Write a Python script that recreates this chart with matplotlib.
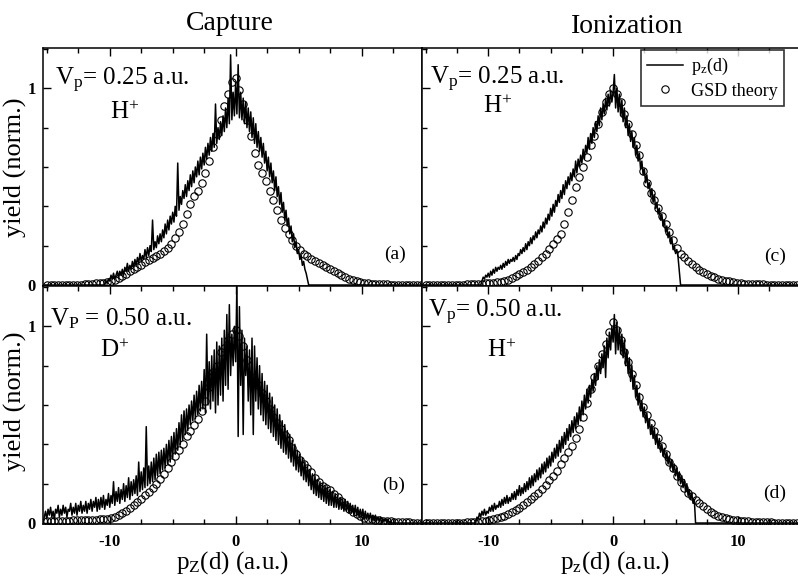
import numpy as np
import matplotlib
matplotlib.use('Agg')
import matplotlib.pyplot as plt
from matplotlib.ticker import MultipleLocator

plt.rcParams['font.family'] = 'Liberation Serif'
plt.rcParams['mathtext.fontset'] = 'custom'
plt.rcParams['mathtext.rm'] = 'Liberation Serif'
plt.rcParams['mathtext.it'] = 'Liberation Serif:italic'

# Measured p_z(d) spectra, sampled every 0.1 a.u. from the given start value
exp_step = 0.1

exp_a_start = -10.4   # capture, Vp = 0.25 a.u., H+
exp_a_y = [0.00, 0.02, 0.01, 0.03,
           0.02, 0.05, 0.03, 0.06, 0.03, 0.05, 0.07, 0.04, 0.07, 0.05,
           0.08, 0.05, 0.09, 0.07, 0.11, 0.07, 0.10, 0.08, 0.12, 0.09,
           0.13, 0.10, 0.14, 0.11, 0.16, 0.12, 0.15, 0.13, 0.18, 0.14,
           0.19, 0.15, 0.20, 0.17, 0.33, 0.18, 0.22, 0.19, 0.25, 0.21,
           0.26, 0.22, 0.28, 0.24, 0.31, 0.26, 0.33, 0.28, 0.35, 0.31,
           0.37, 0.32, 0.40, 0.35, 0.62, 0.38, 0.45, 0.41, 0.48, 0.44,
           0.51, 0.45, 0.53, 0.48, 0.56, 0.50, 0.58, 0.52, 0.60, 0.55,
           0.63, 0.56, 0.65, 0.59, 0.67, 0.61, 0.70, 0.64, 0.72, 0.66,
           0.75, 0.68, 0.77, 0.70, 0.92, 0.72, 0.80, 0.74, 0.83, 0.76,
           0.86, 0.78, 0.90, 0.80, 0.95, 0.82, 1.17, 0.84, 0.98, 0.86,
           1.03, 0.87, 1.12, 0.85, 0.98, 0.84, 0.95, 0.82, 0.93, 0.80,
           0.90, 0.78, 0.88, 0.75, 0.85, 0.72, 0.82, 0.70, 0.78, 0.68,
           0.75, 0.65, 0.72, 0.62, 0.68, 0.58, 0.65, 0.55, 0.62, 0.52,
           0.58, 0.48, 0.55, 0.45, 0.50, 0.41, 0.47, 0.37, 0.42, 0.33,
           0.38, 0.30, 0.34, 0.26, 0.30, 0.22, 0.26, 0.19, 0.22, 0.16,
           0.18, 0.13, 0.15, 0.10, 0.12, 0.08, 0.06, 0.03, 0.00]

exp_b_start = -15.2   # capture, Vp = 0.50 a.u., D+
exp_b_y = [0.03, 0.06,
           0.02, 0.07, 0.04, 0.08, 0.03, 0.06, 0.02, 0.07, 0.05, 0.09,
           0.03, 0.07, 0.04, 0.09, 0.05, 0.08, 0.03, 0.07, 0.06, 0.10,
           0.04, 0.08, 0.05, 0.10, 0.04, 0.09, 0.06, 0.11, 0.05, 0.09,
           0.06, 0.11, 0.05, 0.10, 0.07, 0.12, 0.06, 0.11, 0.08, 0.13,
           0.06, 0.12, 0.07, 0.13, 0.08, 0.14, 0.07, 0.12, 0.09, 0.15,
           0.08, 0.14, 0.10, 0.21, 0.09, 0.16, 0.11, 0.18, 0.10, 0.17,
           0.12, 0.20, 0.11, 0.19, 0.13, 0.23, 0.12, 0.21, 0.14, 0.22,
           0.15, 0.24, 0.14, 0.31, 0.16, 0.26, 0.17, 0.28, 0.18, 0.49,
           0.19, 0.29, 0.20, 0.31, 0.21, 0.33, 0.22, 0.35, 0.24, 0.36,
           0.25, 0.37, 0.27, 0.38, 0.28, 0.40, 0.30, 0.42, 0.31, 0.44,
           0.33, 0.46, 0.35, 0.48, 0.37, 0.51, 0.40, 0.55, 0.42, 0.57,
           0.45, 0.58, 0.47, 0.60, 0.50, 0.62, 0.52, 0.65, 0.53, 0.67,
           0.55, 0.70, 0.57, 0.72, 0.58, 0.78, 0.56, 0.96, 0.60, 0.82,
           0.58, 0.85, 0.62, 0.88, 0.56, 0.92, 0.60, 0.90, 0.65, 0.94,
           0.62, 0.98, 0.70, 1.06, 0.68, 1.11, 0.75, 0.96, 0.80, 1.00,
           0.82, 1.22, 0.44, 1.10, 0.70, 0.98, 0.45, 0.94, 0.75, 0.90,
           0.62, 0.88, 0.55, 0.94, 0.45, 0.90, 0.62, 0.84, 0.58, 0.80,
           0.55, 0.76, 0.52, 0.72, 0.50, 0.70, 0.48, 0.66, 0.46, 0.64,
           0.44, 0.60, 0.42, 0.58, 0.40, 0.55, 0.38, 0.52, 0.36, 0.50,
           0.35, 0.47, 0.33, 0.45, 0.31, 0.42, 0.29, 0.40, 0.27, 0.37,
           0.26, 0.35, 0.24, 0.33, 0.22, 0.31, 0.21, 0.29, 0.19, 0.27,
           0.17, 0.25, 0.15, 0.24, 0.14, 0.22, 0.13, 0.21, 0.12, 0.20,
           0.11, 0.19, 0.10, 0.18, 0.09, 0.17, 0.09, 0.16, 0.08, 0.15,
           0.08, 0.14, 0.07, 0.13, 0.07, 0.12, 0.06, 0.12, 0.06, 0.11,
           0.05, 0.10, 0.05, 0.09, 0.04, 0.09, 0.04, 0.08, 0.03, 0.07,
           0.03, 0.07, 0.02, 0.06, 0.02, 0.05, 0.02, 0.05, 0.01, 0.04,
           0.01, 0.04, 0.01, 0.03, 0.01, 0.03, 0.00, 0.02, 0.01, 0.02,
           0.00, 0.02, 0.00, 0.01, 0.00]

exp_c_start = -10.6   # ionization, Vp = 0.25 a.u., H+
exp_c_y = [0.00, 0.02, 0.04, 0.03, 0.05, 0.04,
           0.06, 0.04, 0.07, 0.05, 0.08, 0.06, 0.09, 0.07, 0.09, 0.08,
           0.10, 0.08, 0.11, 0.09, 0.12, 0.10, 0.13, 0.11, 0.13, 0.12,
           0.14, 0.12, 0.15, 0.13, 0.16, 0.15, 0.18, 0.16, 0.19, 0.17,
           0.21, 0.18, 0.22, 0.20, 0.24, 0.21, 0.25, 0.23, 0.27, 0.24,
           0.28, 0.26, 0.30, 0.27, 0.32, 0.29, 0.34, 0.31, 0.36, 0.33,
           0.39, 0.35, 0.41, 0.37, 0.43, 0.40, 0.46, 0.42, 0.48, 0.44,
           0.51, 0.46, 0.53, 0.49, 0.55, 0.51, 0.57, 0.53, 0.59, 0.55,
           0.63, 0.57, 0.64, 0.60, 0.66, 0.62, 0.69, 0.64, 0.71, 0.67,
           0.75, 0.69, 0.77, 0.72, 0.80, 0.75, 0.83, 0.78, 0.86, 0.81,
           0.90, 0.84, 0.92, 0.87, 0.95, 0.89, 0.97, 0.91, 0.99, 0.93,
           0.98, 1.07, 0.90, 1.00, 0.88, 0.97, 0.86, 0.94, 0.83, 0.90,
           0.80, 0.86, 0.76, 0.82, 0.73, 0.78, 0.70, 0.75, 0.66, 0.71,
           0.63, 0.67, 0.59, 0.63, 0.56, 0.59, 0.52, 0.56, 0.49, 0.52,
           0.45, 0.49, 0.42, 0.46, 0.39, 0.42, 0.36, 0.39, 0.33, 0.36,
           0.30, 0.33, 0.27, 0.30, 0.24, 0.27, 0.21, 0.24, 0.18, 0.20,
           0.16, 0.18, 0.14, 0.07, 0.00]

exp_d_start = -11.0   # ionization, Vp = 0.50 a.u., H+
exp_d_y = [0.00, 0.03, 0.02, 0.05, 0.03, 0.06, 0.04, 0.07, 0.04, 0.06,
           0.05, 0.08, 0.06, 0.09, 0.06, 0.10, 0.07, 0.09, 0.08, 0.11,
           0.08, 0.12, 0.09, 0.13, 0.10, 0.14, 0.10, 0.13, 0.11, 0.15,
           0.12, 0.16, 0.12, 0.17, 0.14, 0.19, 0.14, 0.18, 0.15, 0.20,
           0.16, 0.21, 0.17, 0.23, 0.18, 0.24, 0.19, 0.25, 0.21, 0.27,
           0.22, 0.28, 0.23, 0.30, 0.25, 0.31, 0.26, 0.33, 0.28, 0.34,
           0.29, 0.36, 0.31, 0.38, 0.33, 0.40, 0.34, 0.42, 0.36, 0.44,
           0.38, 0.46, 0.40, 0.48, 0.42, 0.50, 0.44, 0.52, 0.46, 0.54,
           0.48, 0.56, 0.50, 0.59, 0.52, 0.62, 0.55, 0.65, 0.58, 0.68,
           0.61, 0.70, 0.64, 0.73, 0.67, 0.76, 0.70, 0.80, 0.73, 0.83,
           0.76, 0.86, 0.79, 0.90, 0.74, 0.94, 0.84, 0.97, 0.88, 1.00,
           0.92, 1.06, 0.86, 1.02, 0.88, 0.99, 0.86, 0.96, 0.84, 0.93,
           0.80, 0.88, 0.76, 0.84, 0.72, 0.80, 0.68, 0.75, 0.64, 0.70,
           0.60, 0.66, 0.57, 0.62, 0.54, 0.59, 0.51, 0.56, 0.48, 0.53,
           0.45, 0.50, 0.43, 0.48, 0.40, 0.45, 0.38, 0.43, 0.36, 0.40,
           0.34, 0.38, 0.32, 0.36, 0.30, 0.34, 0.28, 0.32, 0.26, 0.30,
           0.24, 0.28, 0.22, 0.26, 0.20, 0.24, 0.18, 0.22, 0.16, 0.20,
           0.14, 0.17, 0.12, 0.15, 0.10, 0.12, 0.00]

# GSD theory, every 0.3 a.u. starting at -15 a.u.
gsd_start = -15.0
gsd_step = 0.3

gsd_a = [0.0, 0.0, 0.0, 0.0, 0.0, 0.0, 0.0, 0.0, 0.0, 0.0, 0.005, 0.005, 0.005, 0.01,
         0.01, 0.012, 0.015, 0.02, 0.027, 0.035, 0.045, 0.055, 0.07, 0.08,
         0.09, 0.1, 0.115, 0.125, 0.135, 0.15, 0.16, 0.175, 0.19, 0.21,
         0.24, 0.27, 0.31, 0.36, 0.41, 0.45, 0.48, 0.52, 0.57, 0.63,
         0.7, 0.77, 0.84, 0.91, 0.97, 1.03,
         1.05, 0.99, 0.92, 0.84, 0.76, 0.67, 0.61, 0.57, 0.53, 0.48,
         0.43, 0.38, 0.33, 0.29, 0.26, 0.23, 0.2, 0.18, 0.16, 0.145,
         0.13, 0.12, 0.11, 0.1, 0.09, 0.08, 0.07, 0.06, 0.05, 0.04,
         0.032, 0.025, 0.018, 0.013, 0.01, 0.008, 0.006, 0.005, 0.004,
         0.003, 0.003, 0.002, 0.002, 0.002, 0.001, 0.001, 0.0, 0.0, 0.0, 0.0]

gsd_b = [0.01, 0.01, 0.01, 0.01, 0.012, 0.012, 0.012, 0.013, 0.013, 0.014, 0.014, 0.015, 0.015, 0.016,
         0.018, 0.02, 0.023, 0.027, 0.032, 0.04, 0.05, 0.062, 0.075, 0.09,
         0.105, 0.12, 0.14, 0.16, 0.18, 0.2, 0.225, 0.25, 0.28, 0.31,
         0.34, 0.37, 0.4, 0.44, 0.47, 0.5, 0.53, 0.57, 0.62, 0.69,
         0.77, 0.8, 0.87, 0.89, 0.93, 0.96,
         0.98, 0.95, 0.9, 0.83, 0.74, 0.72, 0.7, 0.66, 0.62, 0.58,
         0.54, 0.51, 0.48, 0.45, 0.42, 0.38, 0.35, 0.32, 0.3, 0.28,
         0.26, 0.23, 0.21, 0.19, 0.18, 0.17, 0.15, 0.13, 0.11, 0.09,
         0.07, 0.055, 0.045, 0.035, 0.028, 0.022, 0.018, 0.015, 0.013,
         0.011, 0.01, 0.008, 0.007, 0.006, 0.005, 0.004, 0.003, 0.002, 0.002, 0.001]

gsd_c = [0.0, 0.0, 0.0, 0.0, 0.0, 0.0, 0.0, 0.0, 0.0, 0.0, 0.002, 0.003, 0.004, 0.005,
         0.005, 0.006, 0.008, 0.01, 0.012, 0.014, 0.017, 0.022, 0.028, 0.036,
         0.045, 0.055, 0.065, 0.078, 0.09, 0.105, 0.12, 0.14, 0.16, 0.185,
         0.21, 0.235, 0.26, 0.31, 0.37, 0.43, 0.5, 0.55, 0.6, 0.65,
         0.71, 0.76, 0.82, 0.88, 0.93, 0.97,
         1.0, 0.97, 0.93, 0.87, 0.82, 0.77, 0.71, 0.66, 0.58, 0.52,
         0.47, 0.43, 0.39, 0.35, 0.31, 0.27, 0.23, 0.19, 0.16, 0.14,
         0.12, 0.105, 0.09, 0.077, 0.066, 0.057, 0.048, 0.04, 0.033, 0.027,
         0.022, 0.018, 0.014, 0.011, 0.009, 0.007, 0.006, 0.005, 0.004,
         0.003, 0.003, 0.002, 0.002, 0.002, 0.001, 0.001, 0.0, 0.0, 0.0, 0.0]

gsd_d = [0.0, 0.0, 0.0, 0.0, 0.0, 0.0, 0.0, 0.0, 0.0, 0.0, 0.002, 0.003, 0.004, 0.005,
         0.007, 0.009, 0.012, 0.015, 0.019, 0.024, 0.03, 0.037, 0.045, 0.055,
         0.066, 0.078, 0.09, 0.105, 0.12, 0.137, 0.155, 0.175, 0.195, 0.218,
         0.24, 0.265, 0.3, 0.33, 0.36, 0.39, 0.43, 0.48, 0.54, 0.61,
         0.68, 0.74, 0.8, 0.86, 0.91, 0.97,
         1.02, 0.98, 0.93, 0.87, 0.82, 0.76, 0.7, 0.64, 0.59, 0.55,
         0.51, 0.47, 0.43, 0.39, 0.35, 0.31, 0.28, 0.24, 0.21, 0.18,
         0.155, 0.135, 0.115, 0.1, 0.085, 0.07, 0.057, 0.046, 0.037, 0.03,
         0.025, 0.02, 0.017, 0.014, 0.012, 0.01, 0.008, 0.007, 0.006,
         0.005, 0.004, 0.003, 0.003, 0.002, 0.002, 0.001, 0.001, 0.0, 0.0, 0.0]

xmin, xmax = -15.3, 14.8
ymin, ymax = -0.005, 1.205

# panel texts
panel_letters = ['(a)', '(b)', '(c)', '(d)']
velocity_texts = [r'V$_\mathrm{p}$= 0.25 a.u.', r'V$_\mathrm{P}$ = 0.50 a.u.',
                  r'V$_\mathrm{p}$= 0.25 a.u.', r'V$_\mathrm{p}$= 0.50 a.u.']
ion_texts = [r'H$^\mathrm{+}$', r'D$^\mathrm{+}$', r'H$^\mathrm{+}$', r'H$^\mathrm{+}$']


def spectrum_xy(start, yvals):
    # experimental curve plus the zero line out to the frame edges
    x = start + exp_step * np.arange(len(yvals))
    return np.r_[xmin, x, xmax], np.r_[0.0, yvals, 0.0]


fig = plt.figure(figsize=(7.98, 5.78), dpi=100)

# axes rectangles (left, bottom, width, height) in figure fraction
ax_a = fig.add_axes([0.0539, 0.5052, 0.4749, 0.4118])
ax_c = fig.add_axes([0.5288, 0.5052, 0.4712, 0.4118])
ax_b = fig.add_axes([0.0539, 0.0934, 0.4749, 0.4118])
ax_d = fig.add_axes([0.5288, 0.0934, 0.4712, 0.4118])
axes = [ax_a, ax_b, ax_c, ax_d]

exp_data = [(exp_a_start, exp_a_y), (exp_b_start, exp_b_y),
            (exp_c_start, exp_c_y), (exp_d_start, exp_d_y)]
gsd_data = [gsd_a, gsd_b, gsd_c, gsd_d]

# text positions in axes fraction: velocity, ion, letter
v_pos = [(0.032, 0.842), (0.018, 0.836), (0.021, 0.845), (0.016, 0.866)]
ion_pos = [(0.177, 0.70), (0.15, 0.70), (0.162, 0.725), (0.172, 0.70)]
let_pos = [(0.929, 0.113), (0.925, 0.143), (0.939, 0.105), (0.939, 0.11)]

for i, ax in enumerate(axes):
    ex, ey = spectrum_xy(*exp_data[i])
    gy = np.array(gsd_data[i])
    gx = gsd_start + gsd_step * np.arange(len(gy))
    ax.plot(ex, ey, color='black', lw=1.1, label=r'p$_\mathrm{z}$(d)', zorder=3)
    ax.plot(gx, gy, ls='none', marker='o', ms=5.3, mfc='none', mec='black',
            mew=0.8, label='GSD theory', zorder=2)

    ax.set_xlim(xmin, xmax)
    ax.set_ylim(ymin, ymax)
    for s in ax.spines.values():
        s.set_linewidth(1.1)

    ax.xaxis.set_major_locator(MultipleLocator(10))
    ax.xaxis.set_minor_locator(MultipleLocator(2.5))
    ax.yaxis.set_major_locator(MultipleLocator(1))
    ax.yaxis.set_minor_locator(MultipleLocator(0.2))
    ax.tick_params(which='both', direction='in', width=1.0)
    ax.tick_params(which='major', length=6)
    ax.tick_params(which='minor', length=3.5)

    top_row = i in (0, 2)
    left_col = i in (0, 1)
    ax.tick_params(which='both', top=True, bottom=not top_row,
                   left=True, right=False,
                   labelbottom=not top_row, labelleft=left_col)
    if not left_col:
        ax.spines['right'].set_visible(False)
    if left_col:
        ax.set_yticks([0, 1])
        ax.set_yticklabels(['0', '1'], fontsize=12, fontweight='bold')
        ax.tick_params(axis='y', pad=5)
    if not top_row:
        ax.set_xticks([-10, 0, 10])
        ax.set_xticklabels(['-10', '0', '10'], fontsize=12, fontweight='bold')
        ax.tick_params(axis='x', pad=7)

    ax.text(*v_pos[i], velocity_texts[i], transform=ax.transAxes,
            fontsize=18, ha='left', va='baseline')
    ax.text(*ion_pos[i], ion_texts[i], transform=ax.transAxes,
            fontsize=18, ha='left', va='baseline')
    ax.text(*let_pos[i], panel_letters[i], transform=ax.transAxes,
            fontsize=14, ha='center', va='baseline')

leg = ax_c.legend(loc='upper right', bbox_to_anchor=(0.962, 0.993),
                  borderaxespad=0, fontsize=13, frameon=True, fancybox=False,
                  handlelength=2.0, handletextpad=0.4, borderpad=0.35,
                  labelspacing=0.3)
leg.get_frame().set_edgecolor('black')
leg.get_frame().set_linewidth(1.2)

# column titles and axis labels
fig.text(0.288, 0.948, 'Capture', fontsize=20, ha='center', va='baseline')
fig.text(0.786, 0.943, 'Ionization', fontsize=20, ha='center', va='baseline')
fig.text(0.019, 0.711, 'yield (norm.)', fontsize=19, rotation=90, ha='center', va='center')
fig.text(0.019, 0.305, 'yield (norm.)', fontsize=19, rotation=90, ha='center', va='center')
fig.text(0.291, 0.017, r'p$_\mathrm{Z}$(d) (a.u.)', fontsize=18, ha='center', va='baseline')
fig.text(0.771, 0.017, r'p$_\mathrm{z}$(d) (a.u.)', fontsize=18, ha='center', va='baseline')

plt.savefig('out.png', dpi=100)
